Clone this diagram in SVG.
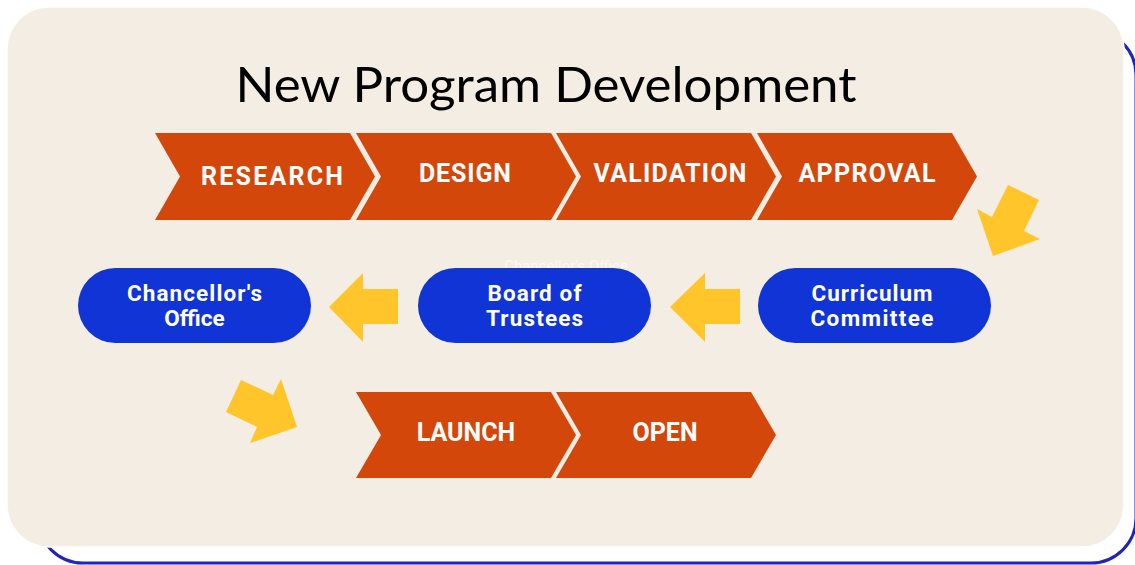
<svg xmlns="http://www.w3.org/2000/svg" width="1135" height="565" viewBox="0 0 1135 565">
<style>
.chev{fill:#d4470a;}
.pill{fill:#1034d5;}
.arrow{fill:#ffc52b;}
.ct{font-family:Roboto,"Liberation Sans",sans-serif;font-weight:700;font-size:25px;fill:#ffffff;text-anchor:middle;}
.pt{font-family:Roboto,"Liberation Sans",sans-serif;font-weight:700;font-size:22.5px;fill:#ffffff;text-anchor:middle;}
</style>
<rect x="0" y="0" width="1135" height="565" fill="#ffffff"/>
<rect x="38" y="30" width="1098" height="533" rx="45" ry="45" fill="#ffffff" stroke="#2323b8" stroke-width="3"/>
<rect x="7" y="7" width="1117" height="540" rx="42" ry="42" fill="#f4ede3" stroke="#ffffff" stroke-width="1.5"/>
<text x="546" y="102" font-family="Lato,'Liberation Sans',sans-serif" font-size="49" fill="#000000" text-anchor="middle" textLength="621" lengthAdjust="spacingAndGlyphs">New Program Development</text>
<text x="566" y="271" font-family="Roboto,'Liberation Sans',sans-serif" font-size="15" fill="#ffffff" fill-opacity="0.7" text-anchor="middle">Chancellor's Office</text>

<g id="connectors">
<polygon class="arrow" points="1008,185 1039,200 1024,231 1040,239 993,256 977,209 992,217"/>
<polygon class="arrow" points="740,289 705,289 705,273 670,307 705,342 705,324 740,324"/>
<polygon class="arrow" points="398,289 363,289 363,273 329,307 363,342 363,324 398,324"/>
<polygon class="arrow" points="241,380 273,395 281,379 297,427 250,443 257,427 226,412"/>
</g>

<g id="research">
<polygon class="chev" points="155,133 350,133 375,176.5 350,220 155,220 180,176.5"/>
<text class="ct" x="272" y="185" textLength="142" lengthAdjust="spacing">RESEARCH</text>
</g>
<g id="design">
<polygon class="chev" points="356,133 551,133 576,176.5 551,220 356,220 381,176.5"/>
<text class="ct" x="465" y="182" textLength="92" lengthAdjust="spacing">DESIGN</text>
</g>
<g id="validation">
<polygon class="chev" points="556,133 751,133 776,176.5 751,220 556,220 581,176.5"/>
<text class="ct" x="670" y="182" textLength="153" lengthAdjust="spacing">VALIDATION</text>
</g>
<g id="approval">
<polygon class="chev" points="757,133 952,133 977,176.5 952,220 757,220 782,176.5"/>
<text class="ct" x="867" y="182" textLength="137" lengthAdjust="spacing">APPROVAL</text>
</g>

<g id="chancellors-office">
<rect class="pill" x="78" y="268" width="233" height="75" rx="37.5" ry="37.5"/>
<text class="pt" x="194.5" y="301" textLength="135" lengthAdjust="spacing">Chancellor's</text>
<text class="pt" x="194.5" y="326">Office</text>
</g>
<g id="board-of-trustees">
<rect class="pill" x="418" y="268" width="233" height="75" rx="37.5" ry="37.5"/>
<text class="pt" x="534.5" y="301" textLength="94" lengthAdjust="spacing">Board of</text>
<text class="pt" x="534.5" y="326" textLength="97" lengthAdjust="spacing">Trustees</text>
</g>
<g id="curriculum-committee">
<rect class="pill" x="758" y="268" width="233" height="75" rx="37.5" ry="37.5"/>
<text class="pt" x="872" y="301" textLength="121" lengthAdjust="spacing">Curriculum</text>
<text class="pt" x="872" y="326" textLength="123" lengthAdjust="spacing">Committee</text>
</g>

<g id="launch">
<polygon class="chev" points="356,392 551,392 576,435 551,478 356,478 381,435"/>
<text class="ct" x="466" y="441">LAUNCH</text>
</g>
<g id="open">
<polygon class="chev" points="556,392 751,392 776,435 751,478 556,478 581,435"/>
<text class="ct" x="665" y="441">OPEN</text>
</g>
</svg>
